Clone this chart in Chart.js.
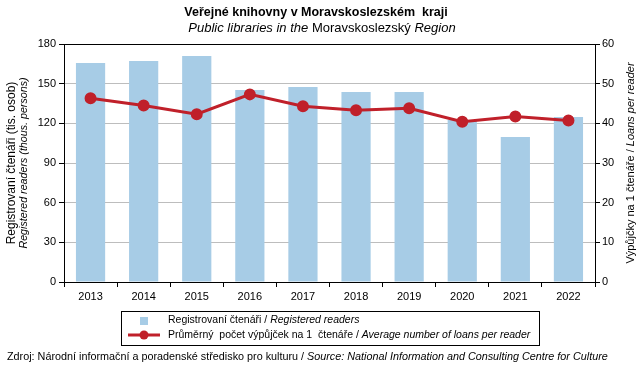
<!DOCTYPE html>
<html>
<head>
<meta charset="utf-8">
<script src="https://cdn.jsdelivr.net/npm/chart.js@4"></script>
<style>
  html, body { margin: 0; padding: 0; background: #fff; }
  #graf { display: block; }
</style>
</head>
<body>
<canvas id="graf" width="643" height="375"></canvas>
<script>
"use strict";

// roky (osa x)
const years = ['2013', '2014', '2015', '2016', '2017', '2018', '2019', '2020', '2021', '2022'];
// registrovaní čtenáři (tis. osob) - levá osa
const readers = [165.6, 167.2, 171.0, 145.2, 147.5, 143.7, 143.7, 122.5, 109.7, 124.8];
// výpůjčky na 1 čtenáře - pravá osa
const loans = [46.3, 44.5, 42.3, 47.3, 44.3, 43.3, 43.8, 40.4, 41.7, 40.7];

// texty
const titleCz = 'Veřejné knihovny v Moravskoslezském  kraji';
const readersLabel = ['Registrovaní čtenáři / ', 'Registered readers'];
const loansLabel = ['Průměrný  počet výpůjček na 1  čtenáře / ', 'Average number of loans per reader'];

const FONT = "'Liberation Sans', Arial, sans-serif";
const BAR_COLOR = '#a7cce6';
const LINE_COLOR = '#c0202a';

// vypise text slozeny z casti s ruznym fontem
function drawParts(ctx, parts, x, y, align) {
    let total = 0;
    parts.forEach(p => { ctx.font = p[1]; total += ctx.measureText(p[0]).width; });
    let cx = align === 'center' ? x - total / 2 : x;
    ctx.textAlign = 'left';
    ctx.textBaseline = 'middle';
    parts.forEach(p => {
        ctx.font = p[1];
        ctx.fillText(p[0], cx, y);
        cx += ctx.measureText(p[0]).width;
    });
}

const n11 = '11px ' + FONT;
const i11 = 'italic 11px ' + FONT;
const nLeg = '10.5px ' + FONT;
const iLeg = 'italic 10.5px ' + FONT;

// popisky, legenda a zdroj
const decor = {
    id: 'decor',
    afterDraw(chart) {
        const ctx = chart.ctx;
        const area = chart.chartArea;
        const midY = (area.top + area.bottom) / 2;
        ctx.save();
        ctx.fillStyle = '#000';

        // nadpis
        drawParts(ctx, [[titleCz, 'bold 12.5px ' + FONT]], 316, 13, 'center');
        drawParts(ctx, [
            ['Public libraries in the ', 'italic 13px ' + FONT],
            ['Moravskoslezský ', '13px ' + FONT],
            ['Region', 'italic 13px ' + FONT]
        ], 322, 28, 'center');

        // levá osa
        ctx.save();
        ctx.translate(12, midY);
        ctx.rotate(-Math.PI / 2);
        drawParts(ctx, [['Registrovaní čtenáři (tis. osob)', '12px ' + FONT]], 0, 0, 'center');
        ctx.restore();
        ctx.save();
        ctx.translate(24, midY);
        ctx.rotate(-Math.PI / 2);
        drawParts(ctx, [['Registered readers (thous. persons)', 'italic 10.7px ' + FONT]], 0, 0, 'center');
        ctx.restore();

        // pravá osa
        ctx.save();
        ctx.translate(631, midY);
        ctx.rotate(-Math.PI / 2);
        drawParts(ctx, [['Výpůjčky na 1 čtenáře / ', n11], ['Loans per reader', i11]], 0, 0, 'center');
        ctx.restore();

        // legenda
        ctx.strokeStyle = '#000';
        ctx.lineWidth = 1;
        ctx.strokeRect(121.5, 311.5, 418, 34);
        ctx.fillStyle = BAR_COLOR;
        ctx.fillRect(140, 317, 8, 8);
        ctx.strokeStyle = LINE_COLOR;
        ctx.lineWidth = 3;
        ctx.beginPath();
        ctx.moveTo(128, 335);
        ctx.lineTo(160, 335);
        ctx.stroke();
        ctx.fillStyle = LINE_COLOR;
        ctx.beginPath();
        ctx.arc(144, 335, 4.5, 0, Math.PI * 2);
        ctx.fill();
        ctx.fillStyle = '#000';
        drawParts(ctx, [[readersLabel[0], nLeg], [readersLabel[1], iLeg]], 168, 320, 'left');
        drawParts(ctx, [[loansLabel[0], nLeg], [loansLabel[1], iLeg]], 168, 335, 'left');

        // zdroj
        drawParts(ctx, [
            ['Zdroj: Národní informační a poradenské středisko pro kulturu / ', '10.8px ' + FONT],
            ['Source: National Information and Consulting Centre for Culture', 'italic 10.8px ' + FONT]
        ], 7, 357, 'left');
        ctx.restore();
    }
};

const config = {
    type: 'bar',
    data: {
        labels: years,
        datasets: [
            {
                type: 'line',
                label: loansLabel.join(''),
                data: loans,
                yAxisID: 'y2',
                borderColor: LINE_COLOR,
                backgroundColor: LINE_COLOR,
                pointBackgroundColor: LINE_COLOR,
                pointBorderColor: LINE_COLOR,
                borderWidth: 3,
                pointRadius: 4.5,
                lineTension: 0,
                order: 0
            },
            {
                type: 'bar',
                label: readersLabel.join(''),
                data: readers,
                yAxisID: 'y',
                backgroundColor: BAR_COLOR,
                barPercentage: 0.55,
                categoryPercentage: 1,
                order: 1
            }
        ]
    },
    options: {
        responsive: false,
        animation: false,
        layout: { padding: { top: 44, bottom: 73, left: 0, right: 0 } },
        plugins: {
            legend: { display: false },
            tooltip: { enabled: false }
        },
        scales: {
            x: {
                afterFit: s => { s.height = 20; },
                grid: { offset: true, drawOnChartArea: false, tickLength: 5, tickColor: '#000' },
                border: { color: '#000' },
                ticks: { color: '#000', padding: 3, font: { family: FONT, size: 11 } }
            },
            y: {
                position: 'left',
                min: 0,
                max: 180,
                afterFit: s => { s.width = 64; },
                grid: {
                    color: c => c.tick && c.tick.value === 180 ? '#000' : '#bdbdbd',
                    tickColor: '#000',
                    tickLength: 5
                },
                border: { color: '#000' },
                ticks: { stepSize: 30, color: '#000', padding: 3, font: { family: FONT, size: 11 } }
            },
            y2: {
                position: 'right',
                min: 0,
                max: 60,
                afterFit: s => { s.width = 48; },
                grid: { drawOnChartArea: false, tickColor: '#000', tickLength: 5 },
                border: { color: '#000' },
                ticks: { stepSize: 10, color: '#000', padding: 2, font: { family: FONT, size: 11 } }
            }
        }
    },
    plugins: [decor]
};

new Chart(document.getElementById('graf'), config);
</script>
</body>
</html>
